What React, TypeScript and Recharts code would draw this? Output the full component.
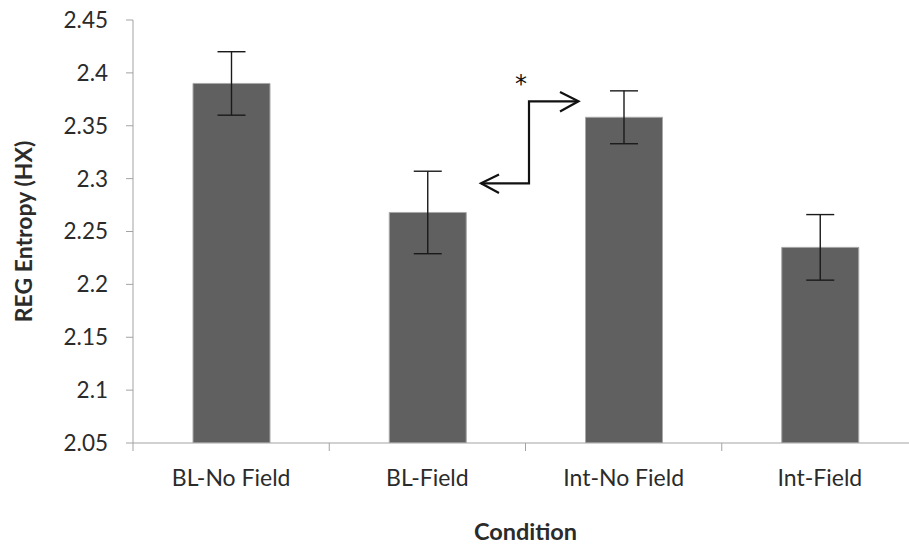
import React from "react";
import { BarChart, Bar, XAxis, YAxis, ErrorBar } from "recharts";

const categories = ["BL-No Field", "BL-Field", "Int-No Field", "Int-Field"];
const means = [2.39, 2.268, 2.358, 2.235];
const errors = [0.03, 0.039, 0.025, 0.031];
const yTicks = [2.05, 2.1, 2.15, 2.2, 2.25, 2.3, 2.35, 2.4, 2.45];

const data = categories.map((name, i) => ({ name, value: means[i], err: errors[i] }));

const FONT = "Lato, 'Open Sans', sans-serif";
const TEXT = "#2b2b2b";
const AXIS = "#a3a3a3";

const XTick = (props: any) => {
  const { x, y, payload, index } = props;
  const off = payload && payload.offset > 0 ? payload.offset : 98;
  return (
    <g>
      <line x1={x - off} x2={x - off} y1={y} y2={y + 8} stroke={AXIS} strokeWidth={1} />
      {index === categories.length - 1 && (
        <line x1={x + off} x2={x + off} y1={y} y2={y + 8} stroke={AXIS} strokeWidth={1} />
      )}
      <text x={x} y={y + 43} textAnchor="middle" fill={TEXT} fontSize={23} fontFamily={FONT}>
        {payload.value}
      </text>
    </g>
  );
};

export default function App() {
  return (
    <div
      style={{
        position: "fixed",
        left: 0,
        top: 0,
        width: 909,
        height: 545,
        overflow: "hidden",
        background: "#fff",
      }}
    >
      <BarChart
        width={925}
        height={545}
        data={data}
        margin={{ top: 20, right: 7, left: 0, bottom: 0 }}
      >
        <XAxis
          dataKey="name"
          height={102}
          axisLine={{ stroke: AXIS }}
          tickLine={false}
          tickSize={0}
          tickMargin={0}
          interval={0}
          tick={<XTick />}
          label={{
            content: (p: any) => (
              <text
                x={p.viewBox.x + p.viewBox.width / 2}
                y={p.viewBox.y + 97}
                textAnchor="middle"
                fill={TEXT}
                fontSize={23.5}
                fontWeight="bold"
                fontFamily={FONT}
              >
                Condition
              </text>
            ),
          }}
        />
        <YAxis
          width={133}
          domain={[2.05, 2.45]}
          ticks={yTicks}
          interval={0}
          allowDataOverflow
          axisLine={{ stroke: AXIS }}
          tickLine={{ stroke: AXIS }}
          tickSize={7}
          tickMargin={18}
          tick={{ fill: TEXT, fontSize: 22.5, fontFamily: FONT }}
          tickFormatter={(v: number) => String(Number(v.toFixed(2)))}
          label={{
            content: (p: any) => {
              const cx = 23;
              const cy = p.viewBox.y + p.viewBox.height / 2;
              return (
                <text
                  x={cx}
                  y={cy}
                  transform={`rotate(-90 ${cx} ${cy})`}
                  textAnchor="middle"
                  dominantBaseline="central"
                  fill={TEXT}
                  fontSize={23}
                  fontWeight="bold"
                  fontFamily={FONT}
                >
                  REG Entropy (HX)
                </text>
              );
            },
          }}
        />
        <Bar
          dataKey="value"
          barSize={77}
          fill="#606060"
          stroke="#a8a8a8"
          strokeWidth={1}
          isAnimationActive={false}
        >
          <ErrorBar
            dataKey="err"
            width={14}
            stroke="#1a1a1a"
            strokeWidth={1.4}
            direction="y"
            isAnimationActive={false}
          />
        </Bar>
      </BarChart>
      {/* significance annotation */}
      <svg
        width={909}
        height={545}
        style={{ position: "absolute", left: 0, top: 0, pointerEvents: "none" }}
      >
        <g stroke="#111" strokeWidth={2.2} fill="none" strokeLinejoin="miter">
          <path d="M481,183.3 H529 V101.3 H578" />
          <path d="M499,174.5 L481,183.3 L499,193" />
          <path d="M560,92 L578.5,101.3 L560,111.5" />
        </g>
        <text x={521} y={92} textAnchor="middle" fontSize={24} fontFamily="'DejaVu Sans', sans-serif" fill="#111">
          *
        </text>
      </svg>
    </div>
  );
}
